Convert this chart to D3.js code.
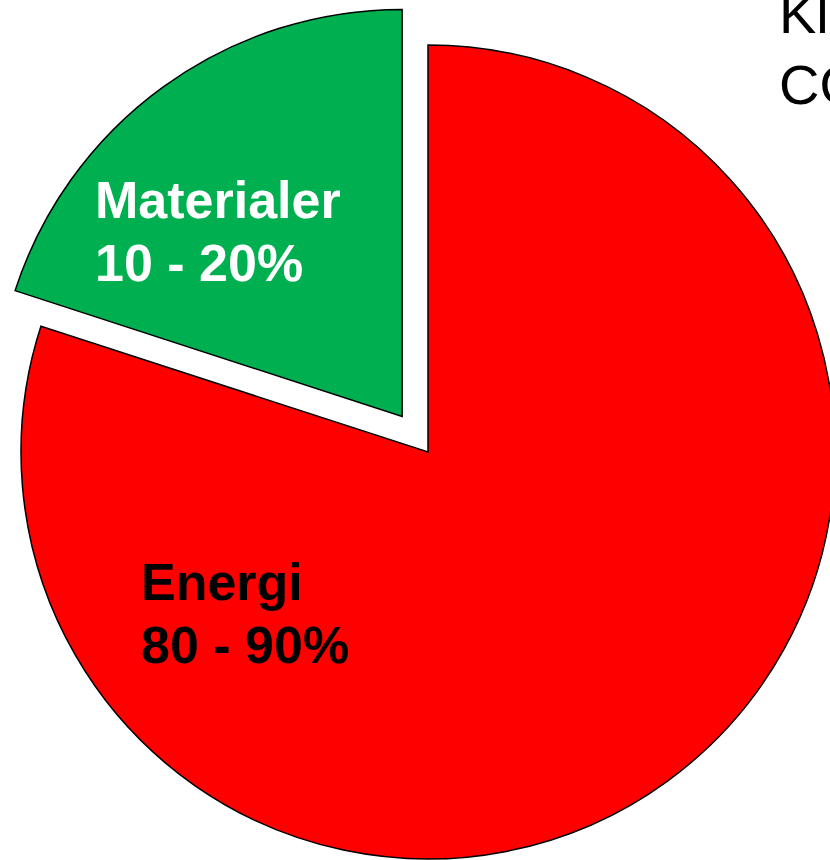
<!DOCTYPE html>
<html>
<head>
<meta charset="utf-8">
<script src="https://cdn.jsdelivr.net/npm/d3@7"></script>
<style>
  html, body { margin: 0; padding: 0; background: #fff; overflow: hidden; }
  svg { display: block; }
</style>
</head>
<body>
<svg id="chart" width="830" height="860"></svg>
<script>
// Share of impact: energy use vs. materials
const categories = ["Energi", "Materialer"];
const values = [80, 20];
const rangeLabels = ["80 - 90%", "10 - 20%"];
const colors = ["#ff0000", "#00b050"];
const textColors = ["#000000", "#ffffff"];
const titleLines = ["Klimagasser", "CO2-utslipp"];

const width = 830, height = 860;
const cx = 428, cy = 452, radius = 407;
const explode = [0, 44];

const svg = d3.select("#chart");

const pie = d3.pie().sort(null).value(d => d.value).startAngle(0).endAngle(2 * Math.PI);
const arc = d3.arc().innerRadius(0).outerRadius(radius);

const data = categories.map((c, i) => ({ name: c, value: values[i], range: rangeLabels[i], i }));
const arcs = pie(data);

const g = svg.append("g").attr("transform", `translate(${cx},${cy})`);

g.selectAll("path.slice")
  .data(arcs)
  .join("path")
  .attr("class", "slice")
  .attr("transform", d => {
    const mid = (d.startAngle + d.endAngle) / 2;
    const off = explode[d.data.i];
    return `translate(${off * Math.sin(mid)},${-off * Math.cos(mid)})`;
  })
  .attr("d", arc)
  .attr("fill", d => colors[d.data.i])
  .attr("stroke", "#000")
  .attr("stroke-width", 1.5)
  .attr("stroke-linejoin", "miter");

// Slice labels (name + range)
const labelPos = [{ x: 141, y: 600 }, { x: 95, y: 218 }];
const labels = svg.append("g")
  .attr("font-family", "'Liberation Sans', Arial, sans-serif")
  .attr("font-weight", "bold")
  .attr("font-size", 52);

data.forEach((d, i) => {
  const t = labels.append("text")
    .attr("x", labelPos[i].x)
    .attr("y", labelPos[i].y)
    .attr("fill", textColors[i]);
  t.append("tspan").attr("x", labelPos[i].x).attr("dy", 0).text(d.name);
  t.append("tspan").attr("x", labelPos[i].x).attr("dy", 63).text(d.range);
});

// Title at top right (runs past the edge)
const title = svg.append("text")
  .attr("font-family", "'Liberation Sans', Arial, sans-serif")
  .attr("font-size", 56)
  .attr("fill", "#000")
  .attr("x", 779)
  .attr("y", 33);
title.append("tspan").attr("x", 779).attr("dy", 0).text(titleLines[0]);
title.append("tspan").attr("x", 779).attr("dy", 71).text(titleLines[1]);
</script>
</body>
</html>
